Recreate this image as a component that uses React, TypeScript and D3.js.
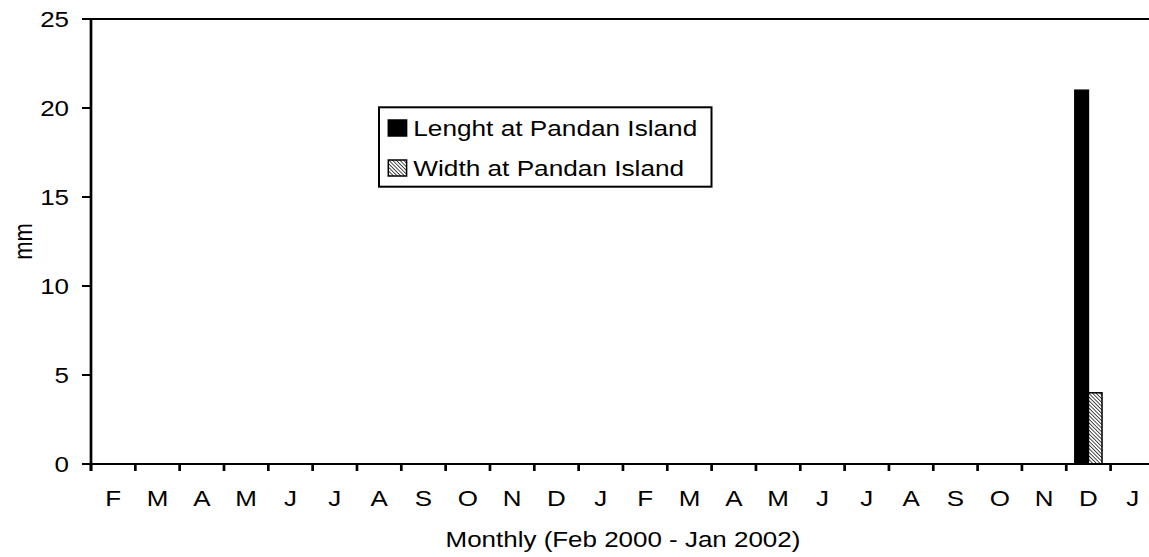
import React from "react";
import * as d3 from "d3";

// month initials, Feb 2000 - Jan 2002
const months = ["F", "M", "A", "M", "J", "J", "A", "S", "O", "N", "D", "J",
  "F", "M", "A", "M", "J", "J", "A", "S", "O", "N", "D", "J"];
const seriesNames = ["Lenght at Pandan Island", "Width at Pandan Island"];
const lengthValues = [null, null, null, null, null, null, null, null, null, null, null, null,
  null, null, null, null, null, null, null, null, null, null, 21, null];
const widthValues = [null, null, null, null, null, null, null, null, null, null, null, null,
  null, null, null, null, null, null, null, null, null, null, 4, null];
const yTicks = [0, 5, 10, 15, 20, 25];

const width = 1149;
const height = 557;
const left = 91;
const top = 19;
const bottom = 464;
const step = 44.33;
const font = "'Liberation Sans', Arial, sans-serif";
const fs = 22;
const sx = 1.18; // original picture is a little stretched sideways

export default function App() {
  const x = d3
    .scaleBand<number>()
    .domain(d3.range(months.length))
    .range([left, left + step * months.length])
    .padding(0);
  const inner = d3
    .scaleBand<number>()
    .domain([0, 1])
    .range([0, x.bandwidth()])
    .paddingInner(0)
    .paddingOuter(0.63);
  const y = d3.scaleLinear().domain([0, 25]).range([bottom, top]);

  const series = [lengthValues, widthValues];
  const fills = ["#000", "url(#hatch)"];
  const right = left + step * months.length;

  const txt = (s, tx, ty, anchor, size = fs, k = sx) => (
    <text
      transform={`translate(${tx},${ty}) scale(${k},1)`}
      textAnchor={anchor}
      fontFamily={font}
      fontSize={size}
      fill="#000"
    >
      {s}
    </text>
  );

  return (
    <div style={{ position: "fixed", left: 0, top: 0 }}>
      <svg width={width} height={height} style={{ display: "block", background: "#fff" }}>
        <defs>
          <pattern id="hatch" patternUnits="userSpaceOnUse" width="2.6" height="2.6"
            patternTransform="rotate(-45)">
            <rect width="2.6" height="2.6" fill="#fff" />
            <line x1="0" y1="0" x2="0" y2="2.6" stroke="#000" strokeWidth="1.4" />
          </pattern>
        </defs>

        {/* bars */}
        {series.map((vals, si) =>
          vals.map((v, i) =>
            v == null ? null : (
              <rect
                key={`${si}-${i}`}
                x={x(i) + inner(si)}
                y={y(v)}
                width={inner.bandwidth()}
                height={y(0) - y(v)}
                fill={fills[si]}
                stroke="#000"
                strokeWidth={1.5}
              />
            )
          )
        )}

        {/* frame */}
        <line x1={left} x2={right} y1={top} y2={top} stroke="#000" strokeWidth={2} />
        <line x1={left} x2={right} y1={bottom} y2={bottom} stroke="#000" strokeWidth={2.2} />
        <line x1={left} x2={left} y1={top} y2={bottom + 7} stroke="#000" strokeWidth={2.7} />

        {/* y ticks */}
        {yTicks.map((t) => (
          <g key={t}>
            <line x1={left - 9} x2={left} y1={y(t)} y2={y(t)} stroke="#000" strokeWidth={2} />
            {txt(String(t), 69, y(t) + 7.6, "end")}
          </g>
        ))}

        {/* x ticks */}
        {d3.range(months.length + 1).map((i) => (
          <line key={i} x1={left + i * step} x2={left + i * step} y1={bottom} y2={bottom + 7}
            stroke="#000" strokeWidth={2.7} />
        ))}
        {months.map((m, i) => (
          <g key={i}>{txt(m, x(i) + x.bandwidth() / 2, 506, "middle")}</g>
        ))}

        {/* axis titles */}
        {txt("Monthly (Feb 2000 - Jan 2002)", (left + right) / 2, 547, "middle")}
        <text
          transform={`translate(31.5,${(top + bottom) / 2}) scale(${sx},1) rotate(-90)`}
          textAnchor="middle"
          fontFamily={font}
          fontSize={fs}
        >
          mm
        </text>

        {/* legend */}
        <rect x={379} y={107.3} width={332.5} height={79.4} fill="#fff" stroke="#000" strokeWidth={2} />
        {seriesNames.map((name, si) => (
          <g key={name}>
            <rect x={388.3} y={120 + si * 40} width={18.3} height={16}
              fill={fills[si]} stroke="#000" strokeWidth={1.5} />
            {txt(name, 413.3, 136 + si * 40, "start", 22.4, 1.17)}
          </g>
        ))}
      </svg>
    </div>
  );
}
